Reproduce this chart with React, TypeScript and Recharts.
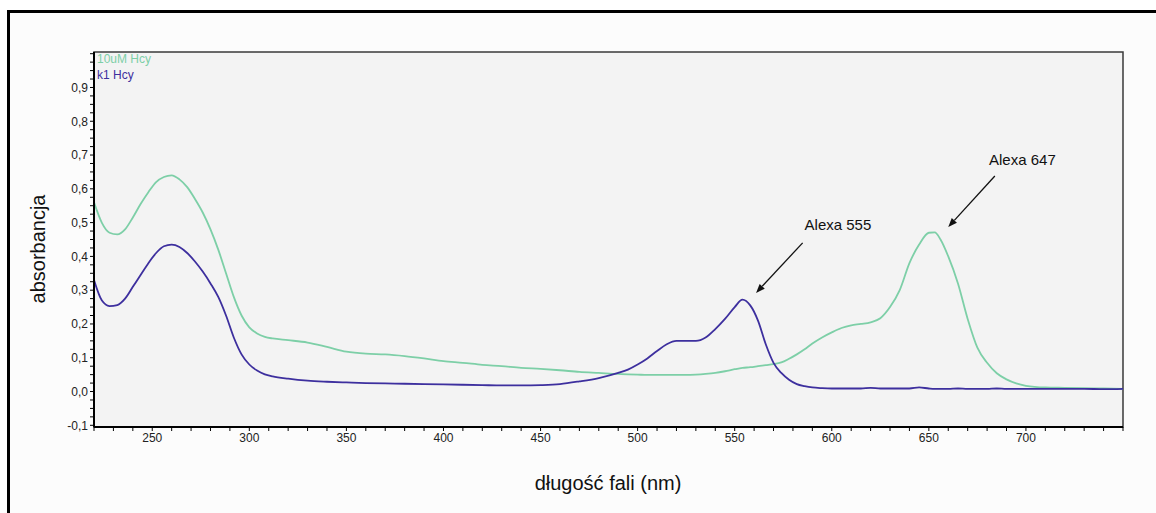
import {
  LineChart, Line, XAxis, YAxis, CartesianGrid, ReferenceArea,
  ReferenceLine, ReferenceDot, Legend, Label,
} from 'recharts'

const wavelength = [
  220, 224, 228, 232, 236, 240, 244, 248, 252, 256, 260, 264, 268, 272, 276, 280, 284, 288,
  292, 296, 300, 304, 308, 312, 320, 330, 340, 350, 360, 370, 380, 390, 400, 410, 420, 430,
  440, 450, 460, 470, 480, 490, 495, 500, 505, 510, 515, 520, 525, 530, 535, 540, 545, 550,
  554, 558, 562, 566, 570, 574, 578, 582, 586, 590, 595, 600, 605, 610, 615, 620, 625, 630,
  635, 640, 645, 650, 653, 656, 660, 665, 670, 675, 680, 685, 690, 695, 700, 710, 720, 730,
  740, 750,
]

const hcy10uM = [
  0.56, 0.5, 0.47, 0.465, 0.48, 0.515, 0.555, 0.59, 0.62, 0.635, 0.64, 0.628, 0.605, 0.57, 0.53, 0.48, 0.42, 0.35,
  0.28, 0.225, 0.19, 0.172, 0.162, 0.157, 0.152, 0.145, 0.132, 0.118, 0.112, 0.11, 0.105, 0.098, 0.09, 0.085, 0.079, 0.075,
  0.07, 0.067, 0.063, 0.058, 0.055, 0.052, 0.051, 0.05, 0.049, 0.049, 0.049, 0.049, 0.049, 0.05, 0.052, 0.055, 0.06, 0.066,
  0.07, 0.072, 0.075, 0.078, 0.081, 0.086, 0.097, 0.11, 0.125, 0.142, 0.16, 0.175, 0.188, 0.196, 0.2, 0.205, 0.217, 0.25,
  0.3, 0.38, 0.435, 0.47, 0.471, 0.45, 0.4, 0.32, 0.215, 0.13, 0.085, 0.054, 0.036, 0.024, 0.017, 0.012, 0.011, 0.01,
  0.009, 0.008,
]

const k1Hcy = [
  0.33, 0.27, 0.253, 0.256, 0.275, 0.31, 0.345, 0.38, 0.41, 0.43, 0.435, 0.428, 0.41, 0.385, 0.355, 0.32, 0.28, 0.225,
  0.16, 0.11, 0.08, 0.062, 0.051, 0.045, 0.038, 0.032, 0.029, 0.027, 0.025, 0.024, 0.023, 0.022, 0.021, 0.02, 0.019, 0.018,
  0.018, 0.019, 0.022, 0.03, 0.04, 0.055, 0.065, 0.08, 0.098, 0.12, 0.14, 0.15, 0.15, 0.15, 0.16, 0.185, 0.215, 0.25,
  0.272, 0.255, 0.21, 0.14, 0.085, 0.055, 0.035, 0.022, 0.016, 0.012, 0.01, 0.009, 0.009, 0.009, 0.009, 0.011, 0.009, 0.009,
  0.009, 0.009, 0.012, 0.009, 0.008, 0.008, 0.008, 0.009, 0.008, 0.008, 0.008, 0.009, 0.008, 0.008, 0.008, 0.008, 0.008, 0.008,
  0.007, 0.008,
]

const xMajor = [250, 300, 350, 400, 450, 500, 550, 600, 650, 700]
const xTicks = Array.from({ length: 54 }, (_, i) => 220 + i * 10)
const yMajor = [-0.1, 0, 0.1, 0.2, 0.3, 0.4, 0.5, 0.6, 0.7, 0.8, 0.9]
const yTicks = Array.from({ length: 45 }, (_, i) => Math.round((-0.1 + i * 0.025) * 1000) / 1000)

const series = [
  { key: 'hcy10', name: '10uM Hcy', color: '#7dcfa7' },
  { key: 'k1', name: 'k1 Hcy', color: '#3d2f9e' },
]

// annotations: label anchor and arrow from -> to, in data units
const annotations = [
  { text: 'Alexa 555', tx: 586, ty: 0.494, from: [585, 0.44], to: [561, 0.292] },
  { text: 'Alexa 647', tx: 681, ty: 0.685, from: [684, 0.638], to: [660, 0.487] },
]

const data = wavelength.map((w, i) => ({ wl: w, hcy10: hcy10uM[i], k1: k1Hcy[i] }))

const tickFont = { fontSize: 12, fill: '#222', fontFamily: 'Liberation Sans, Arial, sans-serif' }

function Arrow(props: any) {
  const { x1, y1, x2, y2 } = props
  const ang = Math.atan2(y2 - y1, x2 - x1)
  const L = 9, W = 3.5
  const bx = x2 - L * Math.cos(ang), by = y2 - L * Math.sin(ang)
  const px = -Math.sin(ang) * W, py = Math.cos(ang) * W
  return (
    <g>
      <line x1={x1} y1={y1} x2={bx} y2={by} stroke="#111" strokeWidth={1.3} />
      <polygon points={`${x2},${y2} ${bx + px},${by + py} ${bx - px},${by - py}`} fill="#111" />
    </g>
  )
}

function LegendBox() {
  return (
    <div style={{ fontFamily: 'Liberation Sans, Arial, sans-serif', fontSize: 12, lineHeight: '16px' }}>
      {series.map((s) => (
        <div key={s.key} style={{ color: s.color }}>{s.name}</div>
      ))}
    </div>
  )
}

export default function App() {
  return (
    <div style={{ position: 'absolute', left: 0, top: 0, width: 1156, height: 513, background: '#fff' }}>
      <div style={{
        position: 'absolute', left: 7, top: 10, width: 1146, height: 503,
        borderTop: '3px solid #000', borderLeft: '3px solid #000', background: '#fcfcfc',
      }} />
      <div style={{ position: 'absolute', left: 0, top: 0 }}>
        <LineChart width={1156} height={513} data={data} margin={{ top: 52, right: 33, left: 54, bottom: 56 }}>
          <CartesianGrid fill="#f3f3f3" stroke="none" horizontal={false} vertical={false} />
          <ReferenceArea x1={220} x2={750} y1={-0.105} y2={1.005} fill="#f3f3f3" fillOpacity={1} stroke="#3a3a3a" strokeWidth={1.5} ifOverflow="visible" />
          <XAxis
            dataKey="wl" type="number" domain={[220, 750]} ticks={xTicks} interval={0}
            allowDataOverflow height={30}
            tick={tickFont} tickSize={4}
            tickLine={{ stroke: '#000' }} axisLine={{ stroke: '#000', strokeWidth: 2 }}
            tickFormatter={(v: number) => (xMajor.includes(v) ? String(v) : '')}
          >
            <Label
              content={() => (
                <text x={608} y={490} textAnchor="middle" fontSize={20} fontFamily="Liberation Sans, Arial, sans-serif" fill="#111">
                  długość fali (nm)
                </text>
              )}
            />
          </XAxis>
          <YAxis
            type="number" domain={[-0.105, 1.005]} ticks={yTicks} interval={0} allowDataOverflow width={40}
            tick={tickFont} tickSize={4}
            tickLine={{ stroke: '#000' }} axisLine={{ stroke: '#000', strokeWidth: 2 }}
            tickFormatter={(v: number) => {
              const m = yMajor.find((t) => Math.abs(t - v) < 1e-6)
              return m === undefined ? '' : m.toFixed(1).replace('.', ',')
            }}
          >
            <Label
              content={() => (
                <text x={45} y={249} textAnchor="middle" fontSize={20} fontFamily="Liberation Sans, Arial, sans-serif" fill="#111" transform="rotate(-90 45 249)">
                  absorbancja
                </text>
              )}
            />
          </YAxis>
          <Legend
            layout="vertical" align="center" verticalAlign="middle"
            content={<LegendBox />}
            wrapperStyle={{ position: 'absolute', left: 97, top: 51, width: 'auto' }}
          />
          {series.map((s) => (
            <Line
              key={s.key} dataKey={s.key} name={s.name} type="monotone" stroke={s.color}
              strokeWidth={1.8} dot={false} activeDot={false} isAnimationActive={false}
            />
          ))}
          {annotations.map((a) => (
            <ReferenceLine
              key={a.text}
              segment={[{ x: a.from[0], y: a.from[1] }, { x: a.to[0], y: a.to[1] }]}
              shape={Arrow}
              ifOverflow="visible"
            />
          ))}
          {annotations.map((a) => (
            <ReferenceDot
              key={a.text + '-t'} x={a.tx} y={a.ty} r={0} fill="none" stroke="none" ifOverflow="visible"
              label={{ value: a.text, position: 'right', offset: 0, fontSize: 15, fill: '#111', fontFamily: 'Liberation Sans, Arial, sans-serif' }}
            />
          ))}
        </LineChart>
      </div>
    </div>
  )
}
